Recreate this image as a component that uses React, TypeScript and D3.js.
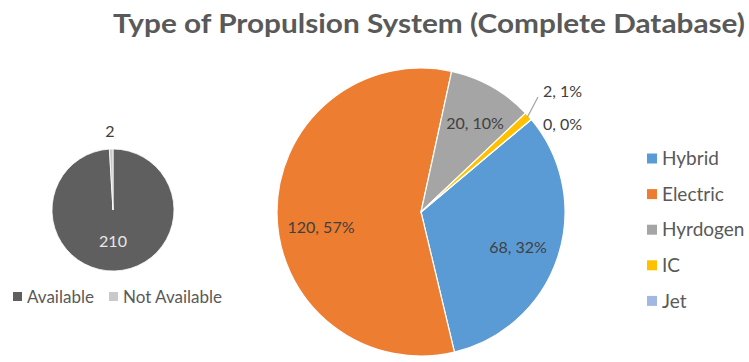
import React from "react";
import * as d3 from "d3";

const title = "Type of Propulsion  System (Complete Database)";
const availCats = ["Available", "Not Available"];
const availValues = [210, 2];
const availColors = ["#5F5F5F", "#C9C9C9"];

const propCats = ["Hybrid", "Electric", "Hyrdogen", "IC", "Jet"];
const propValues = [68, 120, 20, 2, 0];
const propColors = ["#5B9BD5", "#ED7D31", "#A5A5A5", "#FFC000", "#A2B7E2"];

const FONT = "Lato, 'Open Sans', sans-serif";
const TEXT = "#595959";

export default function App() {
  const W = 749, H = 362;
  const sc = { x: 113, y: 210, r: 61 };
  const smallPie = d3.pie<number>().sort(null).value(d => d)(availValues);
  const smallArc = d3.arc<d3.PieArcDatum<number>>().innerRadius(0).outerRadius(sc.r);

  const bc = { x: 421, y: 212, r: 144 };
  const start = (50 * Math.PI) / 180;
  const bigPie = d3.pie<number>().sort(null).value(d => d)
    .startAngle(start).endAngle(start + 2 * Math.PI)(propValues);
  const bigArc = d3.arc<d3.PieArcDatum<number>>().innerRadius(0).outerRadius(bc.r);
  const total = d3.sum(propValues);
  const labelText = (v: number) => `${v}, ${Math.round((v / total) * 100)}%`;
  const pt = (a: number, r: number) => [Math.sin(a) * r, -Math.cos(a) * r];

  const labelPos: Record<number, [number, number]> = {
    0: [97, 35],
    1: [-100, 15],
    2: [54, -89],
  };

  return (
    <svg width={W} height={H} style={{ position: "absolute", left: 0, top: 0, background: "#fff" }}>
      <text x={113} y={33} fontFamily="Lato, 'Liberation Sans', sans-serif" fontWeight="bold" fontSize={27}
        fill={TEXT} textLength={632} lengthAdjust="spacingAndGlyphs">{title}</text>

      <g transform={`translate(${sc.x},${sc.y})`}>
        {smallPie.map((d, i) => (
          <path key={i} d={smallArc(d) || ""} fill={availColors[i]} stroke="#fff" strokeWidth={0.8} />
        ))}
        <text x={-3} y={-73} textAnchor="middle" fontFamily={FONT} fontSize={16} fill="#404040">{availValues[1]}</text>
        <text x={0} y={37} textAnchor="middle" fontFamily={FONT} fontSize={16} fill="#E8E8E8">{availValues[0]}</text>
      </g>
      <g fontFamily={FONT} fontSize={17} fill={TEXT}>
        {availCats.map((c, i) => {
          const x = i === 0 ? 13 : 109;
          return (
            <g key={c}>
              <rect x={x} y={292} width={9} height={9} fill={availColors[i]} />
              <text x={x + 14} y={303}>{c}</text>
            </g>
          );
        })}
      </g>

      <g transform={`translate(${bc.x},${bc.y})`}>
        {bigPie.map((d, i) => (
          <path key={i} d={bigArc(d) || ""} fill={propColors[i]} stroke="#fff" strokeWidth={1.2} />
        ))}
        {bigPie.map((d, i) => {
          const mid = (d.startAngle + d.endAngle) / 2;
          if (i === 3) {
            const [x1, y1] = pt(mid, bc.r * 0.99);
            return (
              <g key={i}>
                <line x1={x1} y1={y1} x2={117} y2={-115} stroke="#A5A5A5" strokeWidth={1.2} />
                <text x={122} y={-115} fontFamily={FONT} fontSize={16} fill="#404040">{labelText(d.data)}</text>
              </g>
            );
          }
          if (i === 4) {
            return (
              <text key={i} x={122} y={-82} fontFamily={FONT} fontSize={16} fill="#404040">{labelText(d.data)}</text>
            );
          }
          const [x, y] = labelPos[i];
          return (
            <text key={i} x={x} y={y} dy="0.35em" textAnchor="middle" fontFamily={FONT} fontSize={16} fill="#404040">
              {labelText(d.data)}
            </text>
          );
        })}
      </g>

      <g fontFamily={FONT} fontSize={19} fill={TEXT}>
        {propCats.map((c, i) => {
          const y = 158.5 + i * 35.6;
          return (
            <g key={c}>
              <rect x={647} y={y - 5} width={10} height={10} fill={propColors[i]} />
              <text x={662} y={y} dy="0.35em">{c}</text>
            </g>
          );
        })}
      </g>
    </svg>
  );
}
